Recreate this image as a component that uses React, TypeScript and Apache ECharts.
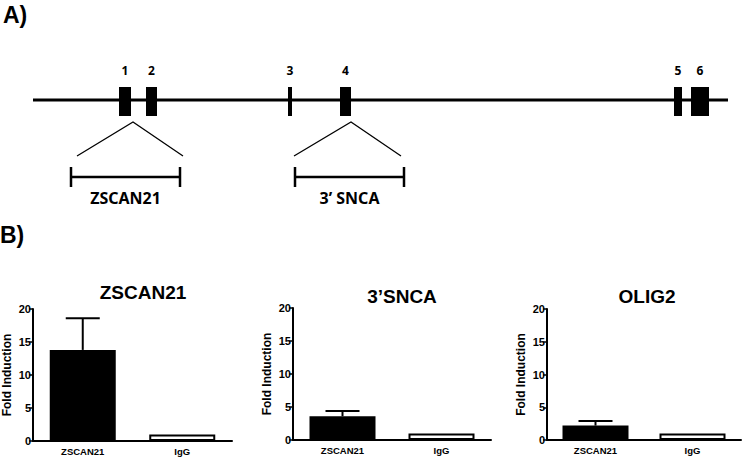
import React, { useEffect, useRef } from "react";
import * as echarts from "echarts";

// ---- Data ----
const categories = ["ZSCAN21", "IgG"];
const panelTitles = ["ZSCAN21", "3\u2019SNCA", "OLIG2"];
const meanZSCAN21 = [13.8, 1.0];
const errZSCAN21 = [4.8, 0];
const meanSNCA3 = [3.6, 1.0];
const errSNCA3 = [0.8, 0];
const meanOLIG2 = [2.2, 1.0];
const errOLIG2 = [0.7, 0];
const yMin = 0;
const yMax = 20;
const yInterval = 5;
const yAxisName = "Fold Induction";

// gene diagram (arbitrary position units along the locus)
const locusExtent = [0, 695];
const exonNames = ["1", "2", "3", "4", "5", "6"];
const exonStart = [86, 113, 255, 307, 641, 658];
const exonEnd = [98, 124, 259, 318, 649, 676];
const regionNames = ["ZSCAN21", "3\u2019 SNCA"];
const regionApex = [100, 318];
const regionZoomLeft = [44, 261];
const regionZoomRight = [150, 368];
const regionStart = [38, 262];
const regionEnd = [147, 371];

const AF = '"Liberation Sans", Arial, sans-serif';
const DF = '"Noto Sans", sans-serif';

export default function App() {
  const ref = useRef<HTMLDivElement>(null);
  useEffect(() => {
    if (!ref.current) return;
    const chart = echarts.init(ref.current, null, { renderer: "svg" });
    const means = [meanZSCAN21, meanSNCA3, meanOLIG2];
    const errs = [errZSCAN21, errSNCA3, errOLIG2];
    const grids = [
      { left: 33, top: 309, width: 199, height: 132 },
      { left: 293, top: 308, width: 198, height: 132 },
      { left: 547, top: 309, width: 194, height: 131 },
      { left: 33, top: 87, width: 695, height: 29 },
    ];
    const titleX = [143, 402, 647];
    const titleY = [294, 298, 298];

    const xAxes: any[] = [];
    const yAxes: any[] = [];
    const series: any[] = [];
    for (let i = 0; i < 3; i++) {
      xAxes.push({
        type: "category",
        gridIndex: i,
        data: categories,
        axisLine: { lineStyle: { color: "#000", width: 2 } },
        axisTick: { alignWithLabel: true, length: 3, lineStyle: { color: "#000", width: 1.5 } },
        axisLabel: { color: "#000", fontFamily: AF, fontWeight: "bold", fontSize: 9.5, margin: 5 },
      });
      yAxes.push({
        type: "value",
        gridIndex: i,
        min: yMin,
        max: yMax,
        interval: yInterval,
        name: yAxisName,
        nameLocation: "middle",
        nameGap: 20,
        nameRotate: 90,
        nameTextStyle: { color: "#000", fontFamily: AF, fontWeight: "bold", fontSize: 12 },
        axisLine: { show: true, lineStyle: { color: "#000", width: 2 } },
        axisTick: { show: true, length: 4, lineStyle: { color: "#000", width: 1.5 } },
        axisLabel: { color: "#000", fontFamily: AF, fontWeight: "bold", fontSize: 11, margin: 2 },
        splitLine: { show: false },
      });
      series.push({
        type: "bar",
        xAxisIndex: i,
        yAxisIndex: i,
        barWidth: 66,
        data: means[i].map((v, k) => ({
          value: v,
          itemStyle:
            k === 0
              ? { color: "#000", borderColor: "#000", borderWidth: 0 }
              : { color: "#fff", borderColor: "#000", borderWidth: 2 },
        })),
      });
      series.push({
        type: "custom",
        xAxisIndex: i,
        yAxisIndex: i,
        encode: { x: 0, y: [1, 2] },
        data: means[i]
          .map((v, k) => [k, v, v + errs[i][k]])
          .filter((d) => d[2] > d[1]),
        renderItem: (params: any, api: any) => {
          const base = api.coord([api.value(0), api.value(1)]);
          const top = api.coord([api.value(0), api.value(2)]);
          const st = { stroke: "#000", lineWidth: 2 };
          return {
            type: "group",
            children: [
              { type: "line", shape: { x1: base[0], y1: base[1], x2: top[0], y2: top[1] }, style: st },
              { type: "line", shape: { x1: top[0] - 17, y1: top[1], x2: top[0] + 17, y2: top[1] }, style: st },
            ],
          };
        },
      });
    }
    // gene diagram axes
    xAxes.push({ type: "value", gridIndex: 3, min: locusExtent[0], max: locusExtent[1], show: false });
    yAxes.push({ type: "value", gridIndex: 3, min: 0, max: 1, show: false });
    series.push({
      type: "custom",
      xAxisIndex: 3,
      yAxisIndex: 3,
      data: [locusExtent],
      renderItem: (params: any, api: any) => {
        const a = api.coord([api.value(0), 0.55]);
        const b = api.coord([api.value(1), 0.55]);
        return { type: "line", shape: { x1: a[0], y1: a[1], x2: b[0], y2: b[1] }, style: { stroke: "#000", lineWidth: 3 } };
      },
    });
    series.push({
      type: "custom",
      xAxisIndex: 3,
      yAxisIndex: 3,
      data: exonStart.map((s, k) => [s, exonEnd[k]]),
      renderItem: (params: any, api: any) => {
        const s = api.coord([api.value(0), 1]);
        const e = api.coord([api.value(1), 0]);
        return {
          type: "group",
          children: [
            { type: "rect", shape: { x: s[0], y: s[1], width: e[0] - s[0], height: e[1] - s[1] }, style: { fill: "#000" } },
            {
              type: "text",
              style: {
                text: exonNames[params.dataIndex],
                x: (s[0] + e[0]) / 2,
                y: s[1] - 17,
                align: "center",
                verticalAlign: "middle",
                font: `bold 12px ${DF}`,
                fill: "#000",
              },
            },
          ],
        };
      },
    });
    series.push({
      type: "custom",
      xAxisIndex: 3,
      yAxisIndex: 3,
      data: regionNames.map((n, k) => [regionApex[k], regionZoomLeft[k], regionZoomRight[k], regionStart[k], regionEnd[k]]),
      renderItem: (params: any, api: any) => {
        const bottom = api.coord([0, 0])[1];
        const ax = api.coord([api.value(0), 0])[0];
        const lx = api.coord([api.value(1), 0])[0];
        const rx = api.coord([api.value(2), 0])[0];
        const bs = api.coord([api.value(3), 0])[0];
        const be = api.coord([api.value(4), 0])[0];
        const apexY = bottom + 6;
        const zoomY = bottom + 40;
        const brY = bottom + 61;
        const st = { stroke: "#000", lineWidth: 1.3 };
        const bst = { stroke: "#000", lineWidth: 2.5 };
        return {
          type: "group",
          children: [
            { type: "polyline", shape: { points: [[lx, zoomY], [ax, apexY], [rx, zoomY]] }, style: { ...st, fill: null } },
            { type: "line", shape: { x1: bs, y1: brY, x2: be, y2: brY }, style: bst },
            { type: "line", shape: { x1: bs, y1: brY - 10, x2: bs, y2: brY + 10 }, style: bst },
            { type: "line", shape: { x1: be, y1: brY - 10, x2: be, y2: brY + 10 }, style: bst },
            {
              type: "text",
              style: {
                text: regionNames[params.dataIndex],
                x: (bs + be) / 2,
                y: brY + 21,
                align: "center",
                verticalAlign: "middle",
                font: `bold 16px ${DF}`,
                fill: "#000",
              },
            },
          ],
        };
      },
    });

    chart.setOption({
      animation: false,
      backgroundColor: "#fff",
      title: [
        ...panelTitles.map((t, i) => ({
          text: t,
          left: titleX[i],
          top: titleY[i] - 11,
          textAlign: "center",
          textStyle: { color: "#000", fontFamily: AF, fontWeight: "bold", fontSize: 19 },
          padding: 0,
        })),
        { text: "A)", left: 3, top: 3, padding: 0, textStyle: { color: "#000", fontFamily: AF, fontWeight: "bold", fontSize: 23 } },
        { text: "B)", left: 0, top: 223, padding: 0, textStyle: { color: "#000", fontFamily: AF, fontWeight: "bold", fontSize: 23 } },
      ],
      grid: grids.map((g) => ({ ...g, containLabel: false })),
      xAxis: xAxes,
      yAxis: yAxes,
      series,
    });
    return () => chart.dispose();
  }, []);
  return <div ref={ref} style={{ position: "fixed", left: 0, top: 0, width: 745, height: 457 }} />;
}
